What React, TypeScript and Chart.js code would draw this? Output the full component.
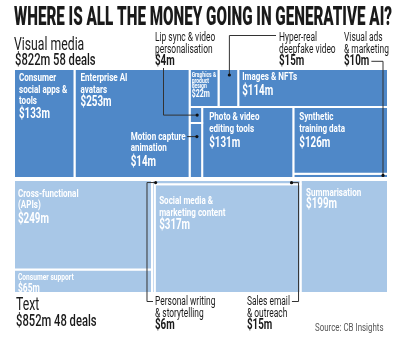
import React, { useEffect, useRef } from 'react';
import { Chart, registerables } from 'chart.js';
Chart.register(...registerables);

// ---------------- data ----------------
const title = 'WHERE IS ALL THE MONEY GOING IN GENERATIVE AI?';
const groupNames = ['Visual media', 'Text'];
const groupTotals = [822, 852];
const groupDeals = [58, 48];
const sourceNote = 'Source: CB Insights';

const visualCategories = [
  'Consumer\nsocial apps &\ntools',
  'Enterprise AI\navatars',
  'Graphics &\nproduct\ndesign',
  'Hyper-real\ndeepfake video',
  'Images & NFTs',
  'Lip sync & video\npersonalisation',
  'Motion capture\nanimation',
  'Photo & video\nediting tools',
  'Synthetic\ntraining data',
  'Visual ads\n& marketing',
];
const visualValues = [133, 253, 22, 15, 114, 4, 14, 131, 126, 10];

const textCategories = [
  'Cross-functional\n(APIs)',
  'Consumer support',
  'Personal writing\n& storytelling',
  'Sales email\n& outreach',
  'Social media &\nmarketing content',
  'Summarisation',
];
const textValues = [249, 65, 6, 15, 317, 199];

// ---------------- layout structure (h = side by side, v = stacked) ----------------
type Node = number | { dir: 'h' | 'v'; children: Node[] };
const visualTree: Node = {
  dir: 'h',
  children: [0, 1, {
    dir: 'v', children: [
      { dir: 'h', children: [2, 3, 4] },
      { dir: 'h', children: [{ dir: 'v', children: [5, 6] }, 7, { dir: 'v', children: [8, 9] }] },
    ],
  }],
};
const textTree: Node = {
  dir: 'h',
  children: [
    { dir: 'v', children: [0, 1] },
    { dir: 'h', children: [2, { dir: 'v', children: [3, 4] }] },
    5,
  ],
};

// ---------------- styles ----------------
const colors = ['#4f88c8', '#a8c7e7'];
const FONT = "Roboto, 'DejaVu Sans', sans-serif";
const SX = 0.7;

type LS = { mode: 'in' | 'left' | 'out'; dx?: number; dy?: number; size?: number; lh?: number; vsize?: number; vgap?: number; ax?: number; ay?: number };
const visualStyles: LS[] = [
  { mode: 'in', dx: 5, dy: 12, size: 11.5, lh: 11.5, vsize: 14, vgap: 13.5 },
  { mode: 'in', dx: 6, dy: 12, size: 11.5, lh: 11.5, vsize: 14, vgap: 13.5 },
  { mode: 'in', dx: 2, dy: 8, size: 7.2, lh: 5.6, vsize: 10, vgap: 9 },
  { mode: 'out', ax: 279, ay: 41 },
  { mode: 'in', dx: 4, dy: 11, size: 11.5, lh: 11.5, vsize: 14, vgap: 15 },
  { mode: 'out', ax: 155, ay: 41 },
  { mode: 'left', dx: 4, dy: 17, size: 11.5, lh: 11, vsize: 14, vgap: 15 },
  { mode: 'in', dx: 7, dy: 13, size: 11.5, lh: 12, vsize: 14, vgap: 15 },
  { mode: 'in', dx: 6, dy: 13, size: 11.5, lh: 12, vsize: 14, vgap: 15 },
  { mode: 'out', ax: 344, ay: 41 },
];
const textStyles: LS[] = [
  { mode: 'in', dx: 4, dy: 18, size: 11.5, lh: 11, vsize: 14, vgap: 15 },
  { mode: 'in', dx: 4, dy: 10.5, size: 9.5, lh: 10, vsize: 12, vgap: 12 },
  { mode: 'out', ax: 155, ay: 305 },
  { mode: 'out', ax: 247, ay: 305 },
  { mode: 'in', dx: 4.5, dy: 20, size: 11.5, lh: 12, vsize: 14, vgap: 13 },
  { mode: 'in', dx: 5.5, dy: 17, size: 11.5, lh: 12, vsize: 14, vgap: 12 },
];

// ---------------- helpers ----------------
type R = { x0: number; x1: number; y0: number; y1: number };
const sumNode = (n: Node, v: number[]): number =>
  typeof n === 'number' ? v[n] : n.children.reduce((s, c) => s + sumNode(c, v), 0);

function layoutTree(n: Node, v: number[], r: R, out: R[]) {
  if (typeof n === 'number') { out[n] = r; return; }
  const total = sumNode(n, v);
  let acc = 0;
  for (const c of n.children) {
    const f0 = acc / total;
    acc += sumNode(c, v);
    const f1 = acc / total;
    if (n.dir === 'h') {
      layoutTree(c, v, { x0: r.x0 + (r.x1 - r.x0) * f0, x1: r.x0 + (r.x1 - r.x0) * f1, y0: r.y0, y1: r.y1 }, out);
    } else {
      layoutTree(c, v, { x0: r.x0, x1: r.x1, y1: r.y1 - (r.y1 - r.y0) * f0, y0: r.y1 - (r.y1 - r.y0) * f1 }, out);
    }
  }
}

const visualSum = visualValues.reduce((a, b) => a + b, 0);
const textSum = textValues.reduce((a, b) => a + b, 0);
const yMax = visualSum + textSum;
const visualRects: R[] = [];
const textRects: R[] = [];
layoutTree(visualTree, visualValues, { x0: 0, x1: 1, y0: textSum, y1: yMax }, visualRects);
layoutTree(textTree, textValues, { x0: 0, x1: 1, y0: 0, y1: textSum }, textRects);

function txt(ctx: CanvasRenderingContext2D, s: string, x: number, y: number, size: number, weight: string, color: string, sx = SX) {
  ctx.save();
  ctx.font = `${weight} ${size}px ${FONT}`;
  ctx.fillStyle = color;
  ctx.textBaseline = 'alphabetic';
  ctx.textAlign = 'left';
  ctx.translate(x, y);
  ctx.scale(sx, 1);
  ctx.fillText(s, 0, 0);
  ctx.restore();
}
function tw(ctx: CanvasRenderingContext2D, s: string, size: number, weight: string, sx = SX) {
  ctx.save();
  ctx.font = `${weight} ${size}px ${FONT}`;
  const w = ctx.measureText(s).width * sx;
  ctx.restore();
  return w;
}
function poly(ctx: CanvasRenderingContext2D, pts: number[][]) {
  ctx.beginPath();
  pts.forEach((p, i) => (i ? ctx.lineTo(p[0], p[1]) : ctx.moveTo(p[0], p[1])));
  ctx.stroke();
  const last = pts[pts.length - 1];
  ctx.beginPath();
  ctx.arc(last[0], last[1], 1.6, 0, Math.PI * 2);
  ctx.fill();
}

const labelsPlugin = {
  id: 'treeLabels',
  afterDraw(chart: any) {
    const ctx: CanvasRenderingContext2D = chart.ctx;
    const xs = chart.scales.x, ys = chart.scales.y;
    const px = (r: R) => ({
      x0: xs.getPixelForValue(r.x0), x1: xs.getPixelForValue(r.x1),
      top: ys.getPixelForValue(r.y1), bot: ys.getPixelForValue(r.y0),
    });

    // title fitted to the plot width
    const tSize = 25;
    const plotW = chart.chartArea.right - chart.chartArea.left + 4;
    ctx.save();
    ctx.font = `900 ${tSize}px ${FONT}`;
    const tsx = plotW / ctx.measureText(title).width;
    ctx.restore();
    txt(ctx, title, chart.chartArea.left, 25, tSize, '900', '#1a1a1a', tsx);

    // group headers
    txt(ctx, groupNames[0], 14, 50, 18, '400', '#1a1a1a', 0.68);
    txt(ctx, `$${groupTotals[0]}m ${groupDeals[0]} deals`, 15, 65, 16.5, '500', '#1a1a1a', 0.68);
    txt(ctx, groupNames[1], 16, 310, 18, '400', '#1a1a1a', 0.68);
    txt(ctx, `$${groupTotals[1]}m ${groupDeals[1]} deals`, 16, 326, 16.5, '500', '#1a1a1a', 0.68);
    txt(ctx, sourceNote, 315, 331, 11, '400', '#555', 0.72);

    const outInfo: Record<string, { x: number; y: number; right: number }> = {};
    const drawGroup = (cats: string[], vals: number[], rects: R[], styles: LS[], key: string) => {
      cats.forEach((cat, i) => {
        const st = styles[i];
        const p = px(rects[i]);
        const lines = cat.split('\n');
        const val = `$${vals[i]}m`;
        if (st.mode === 'out') {
          const ax = st.ax!, ay = st.ay!;
          let right = 0;
          lines.forEach((l, j) => {
            txt(ctx, l, ax, ay + j * 11.8, 12, '400', '#1a1a1a');
            right = Math.max(right, tw(ctx, l, 12, '400'));
          });
          const vy = ay + (lines.length - 1) * 11.8 + 12.5;
          txt(ctx, val, ax, vy, 14, '700', '#1a1a1a');
          outInfo[key + i] = { x: ax, y: ay, right: ax + tw(ctx, val, 14, '700') };
          return;
        }
        const size = st.size!, lh = st.lh!;
        let x = p.x0 + st.dx!;
        if (st.mode === 'left') {
          const w = Math.max(...lines.map((l) => tw(ctx, l, size, '700')));
          x = p.x0 - st.dx! - w;
          outInfo[key + i] = { x, y: p.top + st.dy!, right: p.x0 - st.dx! };
        }
        const y0 = p.top + st.dy!;
        lines.forEach((l, j) => txt(ctx, l, x, y0 + j * lh, size, '700', '#ffffff'));
        txt(ctx, val, x, y0 + (lines.length - 1) * lh + st.vgap!, st.vsize!, '700', '#ffffff');
      });
    };
    drawGroup(visualCategories, visualValues, visualRects, visualStyles, 'v');
    drawGroup(textCategories, textValues, textRects, textStyles, 't');

    // leader lines
    ctx.save();
    ctx.strokeStyle = '#333';
    ctx.fillStyle = '#111';
    ctx.lineWidth = 1;
    // lip sync
    {
      const p = px(visualRects[5]);
      const o = outInfo.v5;
      const dy = (p.top + p.bot) / 2, dx = p.x1 - 5;
      poly(ctx, [[o.x + 8.5, o.y + 27], [o.x + 8.5, dy], [dx, dy]]);
    }
    // deepfake
    {
      const p = px(visualRects[3]);
      const o = outInfo.v3;
      const dx = (p.x0 + p.x1) / 2 + 1, dy = p.top + 6;
      poly(ctx, [[o.x - 3, o.y - 5.5], [dx, o.y - 5.5], [dx, dy]]);
    }
    // motion capture
    {
      const p = px(visualRects[6]);
      const o = outInfo.v6;
      const dx = (p.x0 + p.x1) / 2 + 1, dy = o.y - 3.5;
      poly(ctx, [[o.right + 1.5, dy], [dx, dy]]);
    }
    // visual ads
    {
      const p = px(visualRects[9]);
      const o = outInfo.v9;
      const dx = p.x1 - 5, dy = (p.top + p.bot) / 2 - 1;
      const ly = o.y + 11.8 + 12.5 - 4;
      poly(ctx, [[o.right + 2, ly], [dx, ly], [dx, dy]]);
    }
    // personal writing
    {
      const p = px(textRects[2]);
      const o = outInfo.t2;
      const dx = p.x1 + 1, dy = p.top + 3.5;
      poly(ctx, [[o.x - 2, o.y - 3.5], [p.x0 - 5, o.y - 3.5], [p.x0 - 5, dy], [dx, dy]]);
    }
    // sales email
    {
      const p = px(textRects[3]);
      const o = outInfo.t3;
      const dx = p.x1 - 9, dy = (p.top + p.bot) / 2 + 1;
      const lx = tw(ctx, textCategories[3].split('\n')[0], 12, '400') + o.x + 2;
      poly(ctx, [[lx, o.y - 3.5], [p.x1 - 2, o.y - 3.5], [p.x1 - 2, dy], [dx, dy]]);
    }
    ctx.restore();
  },
};

function rectData(r: R) {
  return [
    { x: r.x0, y: r.y0 }, { x: r.x1, y: r.y0 }, { x: r.x1, y: r.y1 }, { x: r.x0, y: r.y1 }, { x: r.x0, y: r.y0 },
  ];
}

export default function App() {
  const ref = useRef<HTMLCanvasElement | null>(null);
  useEffect(() => {
    if (!ref.current) return;
    const cellSets = [
      ...visualRects.map((r, i) => ({ label: visualCategories[i], data: rectData(r), color: colors[0] })),
      ...textRects.map((r, i) => ({ label: textCategories[i], data: rectData(r), color: colors[1] })),
    ].map((d) => ({
      label: d.label,
      data: d.data,
      showLine: true,
      fill: 'shape',
      backgroundColor: d.color,
      borderColor: '#ffffff',
      borderWidth: 2,
      pointRadius: 0,
      pointHoverRadius: 0,
      tension: 0,
    }));
    const separator = {
      label: 'separator',
      data: [{ x: 0, y: textSum }, { x: 1, y: textSum }],
      showLine: true,
      fill: false,
      borderColor: '#ffffff',
      borderWidth: 4,
      pointRadius: 0,
      pointHoverRadius: 0,
      tension: 0,
      order: -1,
    };
    const chart = new Chart(ref.current, {
      type: 'scatter',
      data: { datasets: [separator, ...cellSets] as any },
      options: {
        responsive: false,
        animation: false,
        devicePixelRatio: 1,
        events: [],
        layout: { padding: { left: 14, right: 12, top: 69, bottom: 48 } },
        scales: {
          x: { type: 'linear', min: 0, max: 1, display: false },
          y: { type: 'linear', min: 0, max: yMax, display: false },
        },
        plugins: { legend: { display: false }, tooltip: { enabled: false }, title: { display: false } },
      } as any,
      plugins: [labelsPlugin],
    });
    return () => chart.destroy();
  }, []);
  return (
    <div style={{ position: 'fixed', left: 0, top: 0, width: 400, height: 341, background: '#fff' }}>
      <canvas ref={ref} width={400} height={341} style={{ width: 400, height: 341, display: 'block' }} />
    </div>
  );
}
